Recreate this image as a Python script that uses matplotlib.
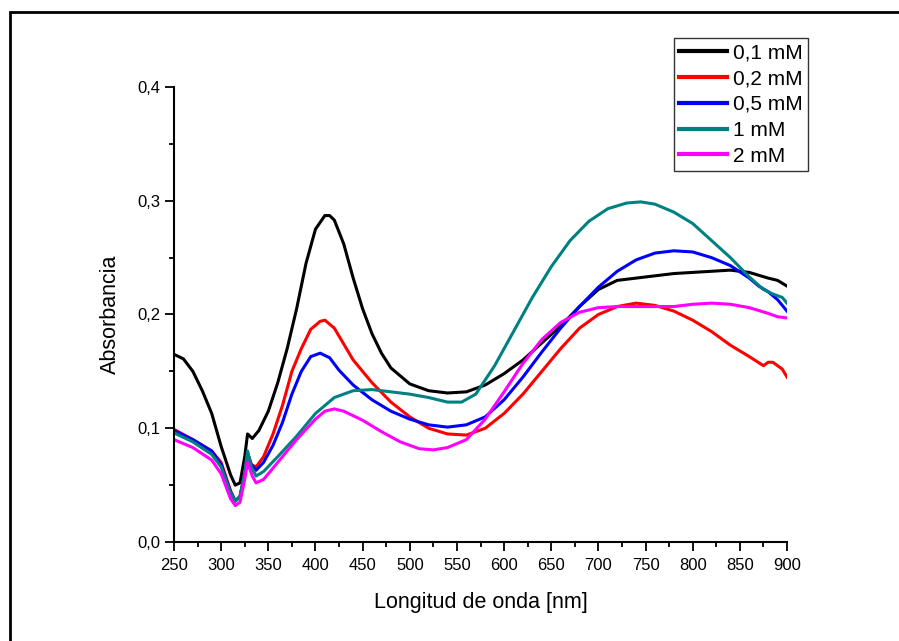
import numpy as np
import matplotlib.pyplot as plt
from matplotlib.patches import Rectangle
from matplotlib.ticker import MultipleLocator, FuncFormatter

plt.rcParams['font.family'] = ['Liberation Sans', 'DejaVu Sans']

# espectros UV-Vis
wl_01 = [250, 260, 270, 280, 290, 300, 310, 315, 320, 325, 328, 333, 340, 350, 360, 370, 380, 390, 400, 410,
         415, 420, 430, 440, 450, 460, 470, 480, 500, 520, 540, 560, 580, 600, 620, 640, 660, 680, 700, 720,
         740, 760, 780, 800, 820, 840, 860, 880, 890, 900]
abs_01 = [0.165, 0.161, 0.150, 0.133, 0.113, 0.084, 0.059, 0.050, 0.052, 0.075, 0.095, 0.091, 0.098, 0.115,
          0.140, 0.170, 0.205, 0.245, 0.275, 0.287, 0.287, 0.283, 0.262, 0.232, 0.205, 0.183, 0.166, 0.153,
          0.139, 0.133, 0.131, 0.132, 0.138, 0.148, 0.160, 0.175, 0.190, 0.207, 0.222, 0.230, 0.232, 0.234,
          0.236, 0.237, 0.238, 0.239, 0.237, 0.232, 0.230, 0.225]

wl_02 = [250, 270, 290, 300, 310, 315, 320, 325, 328, 332, 337, 345, 355, 365, 375, 385, 395, 405, 410, 420,
         430, 440, 460, 480, 500, 520, 540, 560, 580, 600, 620, 640, 660, 680, 700, 720, 740, 760, 780, 800,
         820, 840, 860, 875, 880, 885, 890, 895, 900]
abs_02 = [0.099, 0.090, 0.080, 0.070, 0.045, 0.036, 0.040, 0.060, 0.078, 0.068, 0.066, 0.075, 0.095, 0.120,
          0.150, 0.170, 0.187, 0.194, 0.195, 0.188, 0.174, 0.160, 0.140, 0.123, 0.110, 0.100, 0.095, 0.094,
          0.100, 0.113, 0.130, 0.150, 0.170, 0.188, 0.200, 0.207, 0.210, 0.208, 0.203, 0.195, 0.185, 0.173,
          0.163, 0.155, 0.158, 0.158, 0.155, 0.152, 0.145]

wl_05 = [250, 270, 290, 300, 310, 315, 320, 325, 328, 332, 337, 345, 355, 365, 375, 385, 395, 405, 415, 425,
         440, 460, 480, 500, 520, 540, 560, 580, 600, 620, 640, 660, 680, 700, 720, 740, 760, 780, 800, 820,
         840, 860, 870, 880, 890, 900]
abs_05 = [0.098, 0.090, 0.080, 0.068, 0.044, 0.036, 0.040, 0.060, 0.078, 0.068, 0.063, 0.070, 0.085, 0.105,
          0.130, 0.150, 0.163, 0.166, 0.162, 0.151, 0.138, 0.125, 0.115, 0.108, 0.103, 0.101, 0.103, 0.110,
          0.125, 0.145, 0.167, 0.188, 0.207, 0.224, 0.238, 0.248, 0.254, 0.256, 0.255, 0.250, 0.243, 0.232,
          0.225, 0.220, 0.213, 0.203]

wl_1 = [250, 270, 290, 300, 310, 315, 320, 325, 328, 332, 337, 345, 360, 380, 400, 420, 440, 460, 480, 500,
        520, 540, 555, 570, 590, 610, 630, 650, 670, 690, 710, 730, 745, 760, 780, 800, 820, 840, 860, 875,
        885, 895, 900]
abs_1 = [0.096, 0.088, 0.077, 0.066, 0.043, 0.036, 0.040, 0.060, 0.080, 0.066, 0.058, 0.062, 0.075, 0.093,
         0.113, 0.127, 0.133, 0.134, 0.132, 0.130, 0.127, 0.123, 0.123, 0.130, 0.155, 0.185, 0.215, 0.242,
         0.265, 0.282, 0.293, 0.298, 0.299, 0.297, 0.290, 0.280, 0.265, 0.250, 0.233, 0.222, 0.218, 0.215,
         0.210]

wl_2 = [250, 270, 290, 300, 310, 315, 320, 325, 328, 333, 337, 345, 360, 380, 400, 410, 420, 430, 450, 470,
        490, 510, 525, 540, 560, 580, 600, 620, 640, 660, 680, 700, 720, 740, 760, 780, 800, 820, 840, 860,
        880, 890, 900]
abs_2 = [0.090, 0.083, 0.072, 0.060, 0.038, 0.032, 0.035, 0.055, 0.070, 0.058, 0.052, 0.055, 0.070, 0.090,
         0.108, 0.115, 0.117, 0.115, 0.107, 0.097, 0.088, 0.082, 0.081, 0.083, 0.090, 0.108, 0.132, 0.157,
         0.178, 0.193, 0.202, 0.206, 0.207, 0.207, 0.207, 0.207, 0.209, 0.210, 0.209, 0.206, 0.201, 0.198,
         0.197]

series = [
    ('0,1 mM', wl_01, abs_01, 'black'),
    ('0,2 mM', wl_02, abs_02, '#ff0000'),
    ('0,5 mM', wl_05, abs_05, '#0000ff'),
    ('1 mM', wl_1, abs_1, '#008080'),
    ('2 mM', wl_2, abs_2, '#ff00ff'),
]

fig = plt.figure(figsize=(8.99, 6.41), dpi=100)
ax = fig.add_axes([174 / 899, 99 / 641, 613 / 899, 455 / 641])

for lab, x, y, c in series:
    ax.plot(x, y, color=c, lw=2.2, label=lab)

ax.set_xlim(250, 900)
ax.set_ylim(0, 0.4)
ax.xaxis.set_major_locator(MultipleLocator(50))
ax.xaxis.set_minor_locator(MultipleLocator(25))
ax.yaxis.set_major_locator(MultipleLocator(0.1))
ax.yaxis.set_minor_locator(MultipleLocator(0.05))
ax.yaxis.set_major_formatter(FuncFormatter(lambda v, p: f'{v:.1f}'.replace('.', ',')))
ax.tick_params(which='major', direction='out', length=6.5, width=1.3, labelsize=12, pad=3)
ax.tick_params(axis='x', which='major', pad=5)
ax.tick_params(which='minor', direction='out', length=3.6, width=1.3)

for s in ['top', 'right']:
    ax.spines[s].set_visible(False)
for s in ['left', 'bottom']:
    ax.spines[s].set_linewidth(1.5)

ax.set_xlabel('Longitud de onda [nm]', fontsize=15.5, labelpad=14)
ax.set_ylabel('Absorbancia', fontsize=15.5, labelpad=12)

leg = ax.legend(loc='upper right', bbox_to_anchor=(808 / 899, 1 - 38 / 641), bbox_transform=fig.transFigure,
                fontsize=15, frameon=True, fancybox=False, edgecolor='black', handlelength=2.3,
                handletextpad=0.3, labelspacing=0.33, borderpad=0.25, borderaxespad=0)
leg.get_frame().set_linewidth(1.0)
for h in leg.get_lines():
    h.set_linewidth(3)

# marco exterior de la figura
fig.add_artist(Rectangle((10 / 899, -0.05), 1.2, 1 - 12 / 641 + 0.05, transform=fig.transFigure,
                         fill=False, edgecolor='black', lw=2, clip_on=False))

fig.savefig('out.png', dpi=100)
